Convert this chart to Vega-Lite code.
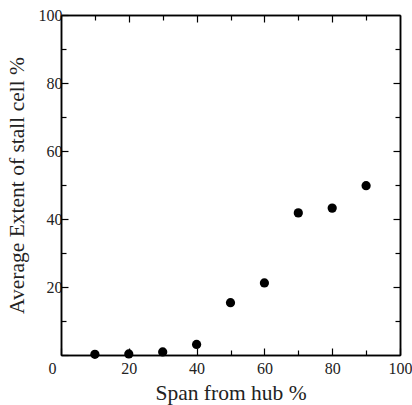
{
  "$schema": "https://vega.github.io/schema/vega-lite/v6.json",
  "autosize": {"type": "none"},
  "padding": {"left": 61, "top": 15, "right": 12, "bottom": 50},
  "width": 339,
  "height": 340,
  "background": "white",
  "config": {
    "view": {"stroke": null},
    "font": "Liberation Serif",
    "axis": {
      "grid": false,
      "domainColor": "black",
      "domainWidth": 1.5,
      "tickColor": "black",
      "tickWidth": 1.2,
      "labelColor": "#222",
      "labelFont": "Liberation Serif",
      "labelFontSize": 16,
      "labelFlush": false,
      "titleFont": "Liberation Serif",
      "titleFontWeight": "normal",
      "titleColor": "#222",
      "titleFontSize": 21.5
    }
  },
  "data": {
    "values": [
      {"span": 10, "extent": 0.2},
      {"span": 20, "extent": 0.3},
      {"span": 30, "extent": 0.9},
      {"span": 40, "extent": 3.1},
      {"span": 50, "extent": 15.4},
      {"span": 60, "extent": 21.2},
      {"span": 70, "extent": 41.8},
      {"span": 80, "extent": 43.2},
      {"span": 90, "extent": 49.8}
    ]
  },
  "resolve": {"axis": {"x": "independent", "y": "independent"}},
  "layer": [
    {
      "mark": {"type": "point", "filled": true, "opacity": 0},
      "encoding": {
        "x": {"field": "span", "type": "quantitative",
          "scale": {"domain": [0, 100], "nice": false},
          "axis": {"orient": "top", "values": [10, 30, 50, 70, 90], "labels": false, "tickSize": -5, "title": null}},
        "y": {"field": "extent", "type": "quantitative",
          "scale": {"domain": [0, 100], "nice": false},
          "axis": {"orient": "right", "values": [10, 30, 50, 70, 90], "labels": false, "tickSize": -5, "title": null}}
      }
    },
    {
      "mark": {"type": "point", "filled": true, "opacity": 0},
      "encoding": {
        "x": {"field": "span", "type": "quantitative",
          "axis": {"orient": "top", "values": [20, 40, 60, 80], "labels": false, "tickSize": -7, "title": null}},
        "y": {"field": "extent", "type": "quantitative",
          "axis": {"orient": "right", "values": [20, 40, 60, 80], "labels": false, "tickSize": -7, "title": null}}
      }
    },
    {
      "mark": {"type": "point", "filled": true, "opacity": 0},
      "encoding": {
        "x": {"field": "span", "type": "quantitative",
          "axis": {"orient": "bottom", "values": [10, 30, 50, 70, 90], "labels": false, "tickSize": -5, "title": null}},
        "y": {"field": "extent", "type": "quantitative",
          "axis": {"orient": "left", "values": [10, 30, 50, 70, 90], "labels": false, "tickSize": -5, "title": null}}
      }
    },
    {
      "mark": {"type": "point", "filled": true, "size": 85, "color": "black", "opacity": 1, "strokeWidth": 0},
      "encoding": {
        "x": {"field": "span", "type": "quantitative",
          "axis": {"orient": "bottom", "values": [0, 20, 40, 60, 80, 100], "tickSize": -7, "labelPadding": 12,
            "labelFont": "Liberation Serif", "labelFontSize": 16, "labelFlush": false,
            "labelOffset": {"condition": {"test": "datum.value == 0", "value": -9}, "value": 0},
            "title": "Span from hub %", "titlePadding": 6}},
        "y": {"field": "extent", "type": "quantitative",
          "axis": {"orient": "left", "values": [0, 20, 40, 60, 80, 100], "tickSize": -7, "labelPadding": 6,
            "labelFont": "Liberation Serif", "labelFontSize": 16,
            "labelExpr": "datum.value == 0 ? '' : datum.label",
            "title": "Average Extent of stall cell %", "titlePadding": 10}}
      }
    }
  ]
}
